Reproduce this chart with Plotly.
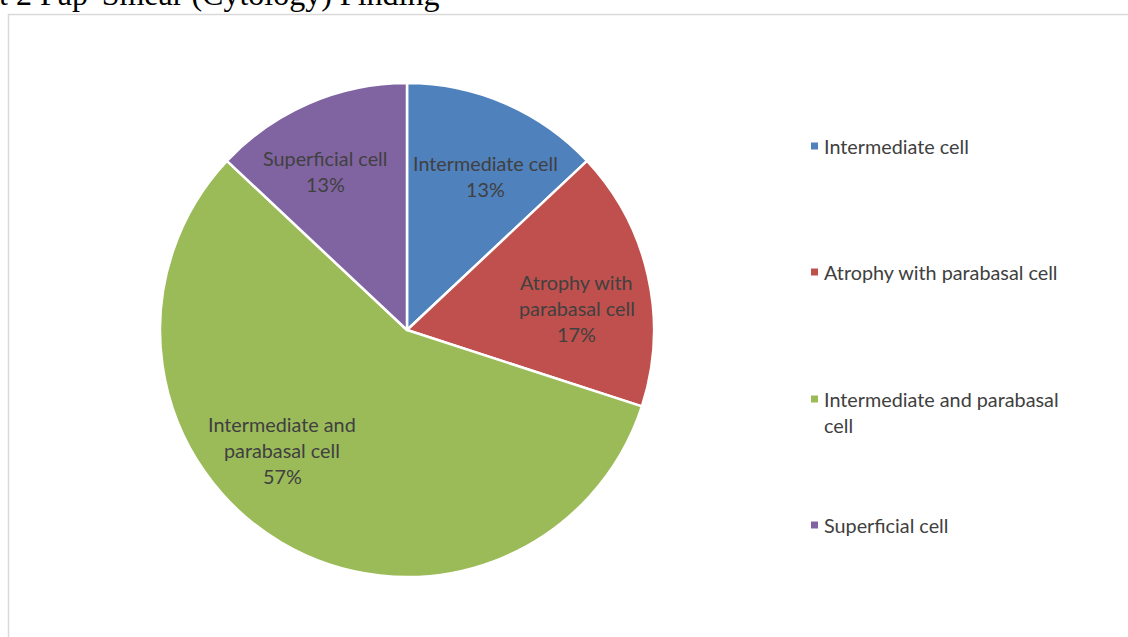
import plotly.graph_objects as go

W, H = 1128, 637

labels = ["Intermediate cell", "Atrophy with parabasal cell",
          "Intermediate and parabasal cell", "Superficial cell"]
values = [13, 17, 57, 13]
colors = ["#4F81BD", "#C0504D", "#9BBB59", "#8064A2"]

# how Excel wrapped the labels
slice_label_lines = [["Intermediate cell"], ["Atrophy with", "parabasal cell"],
                     ["Intermediate and", "parabasal cell"], ["Superficial cell"]]
legend_label_lines = [["Intermediate cell"], ["Atrophy with parabasal cell"],
                      ["Intermediate and parabasal", "cell"], ["Superficial cell"]]

title_text = "t 2 Pap' Smear (Cytology) Finding"

def px(x):
    return x / W

def py(y):
    return 1 - y / H

total = sum(values)
pcts = [f"{round(100 * v / total)}%" for v in values]

cx, cy, r = 407, 330, 247

fig = go.Figure()
fig.add_trace(go.Pie(
    labels=labels, values=values, sort=False, direction="clockwise", rotation=0,
    marker=dict(colors=colors, line=dict(color="white", width=2.5)),
    textinfo="none", hoverinfo="skip", showlegend=False,
    domain=dict(x=[px(cx - r), px(cx + r)], y=[py(cy + r), py(cy - r)]),
))

font_family = "Lato, Carlito, Calibri, sans-serif"
font_size = 19.8
text_color = "#404040"
line_gap = 26

annotations = []
# slice label positions (center x, first line y) in pixels
slice_label_pos = [(485, 163), (577, 282), (282, 424), (325, 158)]
for lines, pct, (x, y) in zip(slice_label_lines, pcts, slice_label_pos):
    for i, t in enumerate(lines + [pct]):
        annotations.append(dict(
            x=px(x), y=py(y + i * line_gap), xref="paper", yref="paper",
            text=t, showarrow=False, xanchor="center", yanchor="middle",
            font=dict(family=font_family, size=font_size, color=text_color)))

legend_y = [146, 272, 399, 525]
shapes = []
for lines, col, y in zip(legend_label_lines, colors, legend_y):
    shapes.append(dict(type="rect", xref="paper", yref="paper",
                       x0=px(811), x1=px(818), y0=py(y + 3.5), y1=py(y - 3.5),
                       fillcolor=col, line=dict(width=0)))
    for i, t in enumerate(lines):
        annotations.append(dict(
            x=px(822), y=py(y + i * line_gap), xref="paper", yref="paper",
            text=t, showarrow=False, xanchor="left", yanchor="middle",
            font=dict(family=font_family, size=font_size, color=text_color)))

# chart frame
shapes.append(dict(type="rect", xref="paper", yref="paper",
                   x0=px(8.5), x1=px(W + 20), y0=py(H + 20), y1=py(14.5),
                   line=dict(color="#D9D9D9", width=1.5), fillcolor="rgba(0,0,0,0)"))

annotations.append(dict(
    x=px(-3), y=py(14), xref="paper", yref="paper", text=title_text,
    showarrow=False, xanchor="left", yanchor="bottom",
    font=dict(family="Liberation Serif, Times New Roman, serif", size=32, color="black")))

fig.update_layout(
    width=W, height=H, margin=dict(l=0, r=0, t=0, b=0),
    paper_bgcolor="white", plot_bgcolor="white",
    shapes=shapes, annotations=annotations,
)

fig.write_html("out.html")
